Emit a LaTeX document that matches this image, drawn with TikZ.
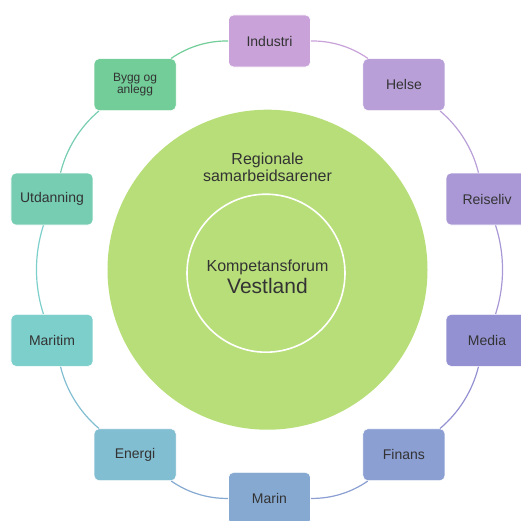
\documentclass[tikz,border=0pt]{standalone}
\usepackage{fontspec}
\setmainfont{Liberation Sans}

\definecolor{textgray}{HTML}{333333}
\definecolor{arena}{HTML}{B8DE7A}
\definecolor{cIndustri}{HTML}{C8A2D8}
\definecolor{cHelse}{HTML}{B99FD8}
\definecolor{cReiseliv}{HTML}{A998D5}
\definecolor{cMedia}{HTML}{9391D2}
\definecolor{cFinans}{HTML}{8C9FD3}
\definecolor{cMarin}{HTML}{86A9D2}
\definecolor{cEnergi}{HTML}{82BED1}
\definecolor{cMaritim}{HTML}{7CCFCB}
\definecolor{cUtdanning}{HTML}{76CDB2}
\definecolor{cBygg}{HTML}{72CD98}

\begin{document}
\begin{tikzpicture}[x=1pt, y=1pt,
  sector/.style={rectangle, rounded corners=5pt, minimum width=82pt, minimum height=52pt,
    inner sep=2pt, draw=white, line width=0.6pt, text=textgray, font=\fontsize{14}{16}\selectfont},
  ring/.style={line width=1.2pt, bend left=18, looseness=0.87}]
  \useasboundingbox (-269.5,-250.3) rectangle (251.5,269.7);

  % arenas in the middle
  \fill[arena] (-2,0) circle (160);
  \draw[white, line width=1.6pt] (-3.5,-3.5) circle (79);
  \node[text=textgray, font=\fontsize{16}{18}\selectfont, align=center] (arener) at (-2,102)
    {Regionale\\[-1pt]samarbeidsarener};
  \node[text=textgray, font=\fontsize{16}{18}\selectfont] (forum) at (-2,2.7) {Kompetansforum};
  \node[text=textgray, font=\fontsize{21}{24}\selectfont] (vestland) at (-2,-16.3) {Vestland};

  % sectors round the ring
  \node[sector, fill=cIndustri] (industri) at (90:228.7) {Industri};
  \node[sector, fill=cHelse] (helse) at (54:228.7) {Helse};
  \node[sector, fill=cReiseliv] (reiseliv) at (18:228.7) {Reiseliv};
  \node[sector, fill=cMedia] (media) at (-18:228.7) {Media};
  \node[sector, fill=cFinans] (finans) at (-54:228.7) {Finans};
  \node[sector, fill=cMarin] (marin) at (-90:228.7) {Marin};
  \node[sector, fill=cEnergi] (energi) at (-126:228.7) {Energi};
  \node[sector, fill=cMaritim] (maritim) at (-162:228.7) {Maritim};
  \node[sector, fill=cUtdanning] (utdanning) at (162:228.7) {Utdanning};
  \node[sector, fill=cBygg, align=center, font=\fontsize{12}{12.5}\selectfont] (bygg) at (126:228.7) {Bygg og\\anlegg};

  \draw[ring, cBygg] (bygg) to (industri);
  \draw[ring, cIndustri] (industri) to (helse);
  \draw[ring, cHelse] (helse) to (reiseliv);
  \draw[ring, cReiseliv] (reiseliv) to (media);
  \draw[ring, cMedia] (media) to (finans);
  \draw[ring, cFinans] (finans) to (marin);
  \draw[ring, cMarin] (marin) to (energi);
  \draw[ring, cEnergi] (energi) to (maritim);
  \draw[ring, cMaritim] (maritim) to (utdanning);
  \draw[ring, cUtdanning] (utdanning) to (bygg);
\end{tikzpicture}
\end{document}
